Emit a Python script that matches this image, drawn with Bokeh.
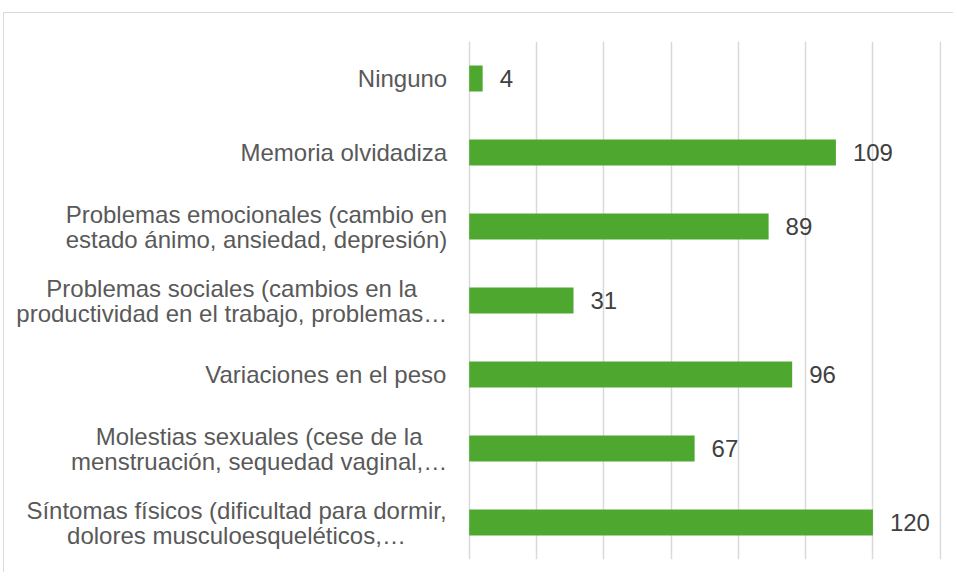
from bokeh.plotting import figure
from bokeh.models import FactorRange, Range1d, FixedTicker, ColumnDataSource
from bokeh.core.properties import value
from bokeh.embed import file_html
from bokeh.resources import INLINE

categories = [
    "Ninguno",
    "Memoria olvidadiza",
    "Problemas emocionales (cambio en\nestado ánimo, ansiedad, depresión)",
    "Problemas sociales (cambios en la\nproductividad en el trabajo, problemas…",
    "Variaciones en el peso",
    "Molestias sexuales (cese de la\nmenstruación, sequedad vaginal,…",
    "Síntomas físicos (dificultad para dormir,\ndolores musculoesqueléticos,…",
]
values = [4, 109, 89, 31, 96, 67, 120]
grid_ticks = [0, 20, 40, 60, 80, 100, 120, 140]

# ---- layout constants ----
FONT_PX = 24
W, H = 950, 560
MB_LEFT, MB_RIGHT, MB_TOP, MB_BOTTOM = 0, 13, 28, 14
FRAME_W = W - MB_LEFT - MB_RIGHT
ZERO_PX = 464.7            # pixel distance of value 0 from frame left
PX_PER_UNIT = 471 / 140    # pixels per value unit
X_START = -ZERO_PX / PX_PER_UNIT
X_END = X_START + FRAME_W / PX_PER_UNIT
STANDOFF = 22
LINE_GAP = 25

# Arial / Liberation Sans advance widths (per 1000 em) for label centring
_w = {" ": 278, "(": 333, ")": 333, ",": 278, "…": 1000, ".": 278,
      "a": 556, "b": 556, "c": 500, "d": 556, "e": 556, "f": 278, "g": 556, "h": 556,
      "i": 222, "j": 222, "k": 500, "l": 222, "m": 833, "n": 556, "o": 556, "p": 556,
      "q": 556, "r": 333, "s": 500, "t": 278, "u": 556, "v": 500, "w": 722, "x": 500,
      "y": 500, "z": 500, "á": 556, "é": 556, "í": 278, "ó": 556,
      "M": 833, "N": 722, "P": 667, "S": 667, "V": 667}

def text_w(s):
    return sum(_w.get(c, 556) for c in s) / 1000 * FONT_PX

lx, ly, lt, lo = [], [], [], []
for cat in categories:
    lines = cat.split("\n")
    block = max(text_w(s) for s in lines)
    cx = -(STANDOFF + block / 2) / PX_PER_UNIT
    n = len(lines)
    for i, s in enumerate(lines):
        lx.append(cx)
        ly.append(cat)
        lt.append(s)
        lo.append(i * LINE_GAP - (n - 1) / 2 * LINE_GAP)

source = ColumnDataSource(dict(cat=categories, val=values, lab=[str(v) for v in values]))
label_src = ColumnDataSource(dict(x=lx, y=ly, t=lt, o=lo))

p = figure(
    width=W, height=H,
    y_range=FactorRange(*list(reversed(categories))),
    x_range=Range1d(X_START, X_END),
    output_backend="svg", toolbar_location=None,
    min_border_left=MB_LEFT, min_border_right=MB_RIGHT,
    min_border_top=MB_TOP, min_border_bottom=MB_BOTTOM,
)
p.styles = {"margin-top": "12px", "margin-left": "3px",
            "border-top": "1px solid #d9d9d9", "border-left": "1px solid #d9d9d9"}
p.outline_line_color = None

p.hbar(y="cat", right="val", left=0, height=0.35, source=source,
       fill_color="#4ea72e", line_color=None)

p.text(x="val", y="cat", text="lab", source=source, x_offset=17,
       text_baseline="middle", text_align="left",
       text_font=value("Liberation Sans"), text_font_size=value(f"{FONT_PX}px"),
       text_color="#404040")

p.text(x="x", y="y", text="t", y_offset="o", source=label_src,
       text_align="center", text_baseline="middle",
       text_font=value("Liberation Sans"), text_font_size=value(f"{FONT_PX}px"),
       text_color="#595959")

p.xaxis.visible = False
p.yaxis.visible = False
p.xgrid.ticker = FixedTicker(ticks=grid_ticks)
p.xgrid.grid_line_color = "#d9d9d9"
p.xgrid.grid_line_width = 1.5
p.ygrid.visible = False

open("out.html", "w").write(file_html(p, INLINE))
